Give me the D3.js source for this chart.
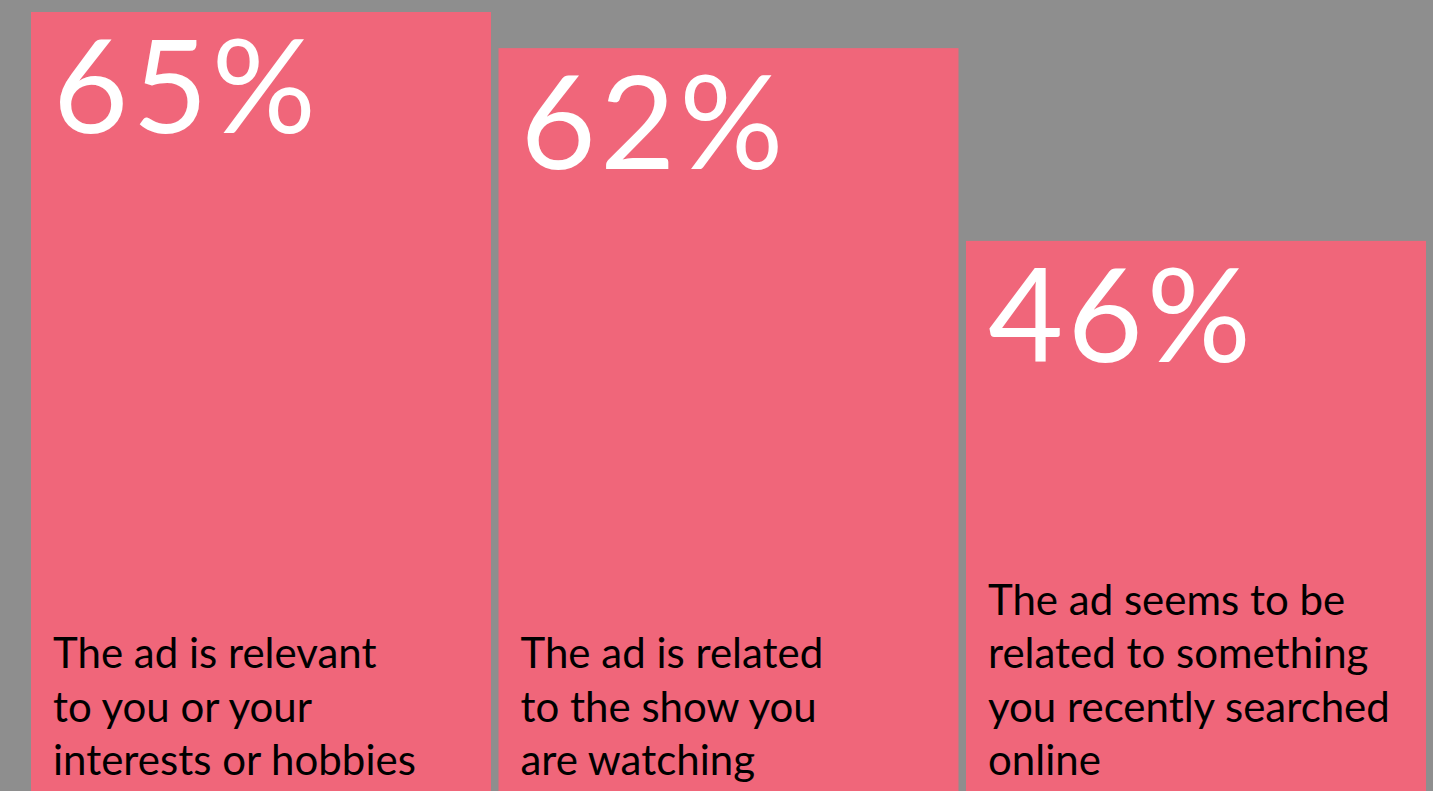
<!DOCTYPE html>
<html>
<head>
<meta charset="utf-8">
<script src="https://cdn.jsdelivr.net/npm/d3@7"></script>
<style>
  html, body { margin: 0; padding: 0; background: #8e8e8e; overflow: hidden; }
  svg { display: block; }
</style>
</head>
<body>
<svg id="chart" width="1433" height="791"></svg>
<script>
// Share of viewers who say each reason makes an ad feel appropriate
const categories = ["relevant", "show", "searched"];
const values = [65, 62, 46];
const valueLabels = ["65%", "62%", "46%"];
const descriptions = [
  ["The ad is relevant", "to you or your", "interests or hobbies"],
  ["The ad is related", "to the show you", "are watching"],
  ["The ad seems to be", "related to something", "you recently searched", "online"]
];

const W = 1433, H = 791;
const svg = d3.select("#chart");

svg.append("rect").attr("width", W).attr("height", H).attr("fill", "#8e8e8e");

const x = d3.scaleBand()
  .domain(categories)
  .range([31, 1426])
  .paddingInner(0.016)
  .paddingOuter(0);

// baseline sits just below the visible area
const y = d3.scaleLinear().domain([0, 65]).range([795, 12]);

const g = svg.selectAll("g.bar")
  .data(categories.map((c, i) => ({ c, v: values[i], label: valueLabels[i], lines: descriptions[i] })))
  .join("g")
  .attr("class", "bar");

g.append("rect")
  .attr("x", d => x(d.c))
  .attr("y", d => y(d.v))
  .attr("width", x.bandwidth())
  .attr("height", d => y(0) - y(d.v))
  .attr("fill", "#f0667a");

g.append("text")
  .attr("x", d => x(d.c) + 22)
  .attr("y", d => y(d.v) + 121)
  .attr("fill", "#ffffff")
  .style("font-family", "Lato, 'Open Sans', sans-serif")
  .style("font-weight", 400)
  .style("font-size", "130px")
  .style("letter-spacing", "4px")
  .text(d => d.label);

const lineH = 53.5;
const lastBaseline = 775;
g.each(function (d) {
  const n = d.lines.length;
  d3.select(this).append("text")
    .attr("fill", "#000000")
    .style("font-family", "Lato, 'Open Sans', sans-serif")
    .style("font-weight", 400)
    .style("font-size", "42px")
    .selectAll("tspan")
    .data(d.lines)
    .join("tspan")
    .attr("x", x(d.c) + 22)
    .attr("y", (t, i) => lastBaseline - (n - 1 - i) * lineH)
    .text(t => t);
});
</script>
</body>
</html>
